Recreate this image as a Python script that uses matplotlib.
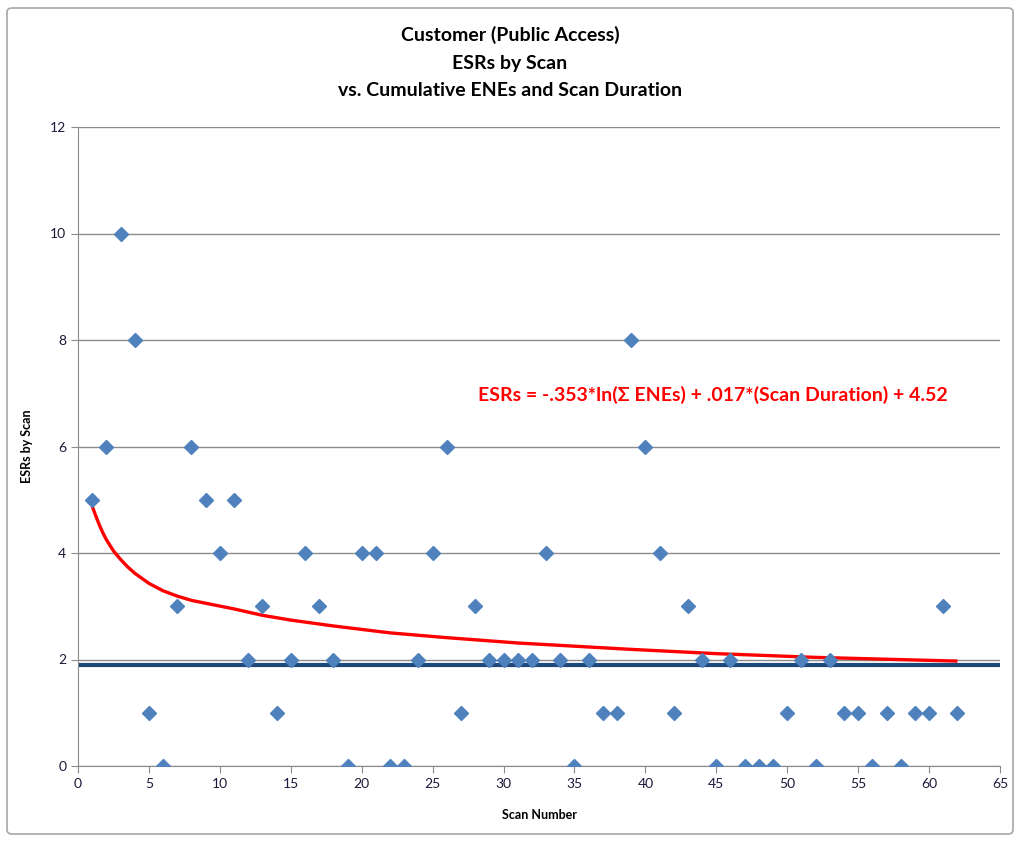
import numpy as np
import matplotlib
matplotlib.use("Agg")
import matplotlib.pyplot as plt
from matplotlib.patches import FancyBboxPatch

# Scan numbers and ESR counts per scan
scan_number = list(range(1, 63))
esrs = [5, 6, 10, 8, 1, 0, 3, 6, 5, 4,
        5, 2, 3, 1, 2, 4, 3, 2, 0, 4,
        4, 0, 0, 2, 4, 6, 1, 3, 2, 2,
        2, 2, 4, 2, 0, 2, 1, 1, 8, 6,
        4, 1, 3, 2, 0, 2, 0, 0, 0, 1,
        2, 0, 2, 1, 1, 0, 1, 0, 1, 1,
        3, 1]

# Model prediction (cumulative ENEs and scan duration) along the scans
model_scan = [1, 1.25, 1.5, 1.75, 2, 2.5, 3, 3.5, 4, 5, 6, 7, 8, 9.5, 11,
              13, 15, 18, 22, 26, 31, 35, 39, 45, 52, 62]
model_esrs = [4.88, 4.70, 4.53, 4.38, 4.25, 4.04, 3.88, 3.74, 3.62, 3.43,
              3.29, 3.19, 3.11, 3.03, 2.95, 2.83, 2.74, 2.63, 2.50, 2.41,
              2.31, 2.25, 2.19, 2.11, 2.04, 1.97]

# Reference level line
baseline_level = 1.9
baseline_span = [0.1, 65]

title_lines = ["Customer (Public Access)", "ESRs by Scan",
               "vs. Cumulative ENEs and Scan Duration"]
equation = "ESRs = -.353*ln(\u03a3 ENEs) + .017*(Scan Duration) + 4.52"

plt.rcParams['font.family'] = ['Lato', 'DejaVu Sans']

fig = plt.figure(figsize=(10.2, 8.42), dpi=100)
ax = fig.add_axes([78 / 1020, 1 - 766 / 842, (1000 - 78) / 1020, (766 - 127) / 842])

# outer chart frame
frame = FancyBboxPatch((7 / 1020, 8 / 842), 1 - 14 / 1020, 1 - 16 / 842,
                       boxstyle="round,pad=0,rounding_size=0.005",
                       transform=fig.transFigure, fill=False,
                       edgecolor="#a6a6a6", linewidth=1.2)
fig.patches.append(frame)

ax.plot(model_scan, model_esrs, color="#FF0000", linewidth=2.4,
        solid_capstyle="butt", solid_joinstyle="round", zorder=3)
ax.plot(baseline_span, [baseline_level, baseline_level], color="#1F497D",
        linewidth=3.0, solid_capstyle="butt", zorder=3)
ax.plot(scan_number, esrs, linestyle="none", marker="D", markersize=7,
        color="#4F81BD", zorder=4)

ax.set_xlim(0, 65)
ax.set_ylim(0, 12)
ax.set_xticks(range(0, 66, 5))
ax.set_yticks(range(0, 13, 2))
ax.yaxis.grid(True, color="#8c8c8c", linewidth=1.0)
ax.set_axisbelow(True)
for side in ["top", "right"]:
    ax.spines[side].set_visible(False)
for side in ["left", "bottom"]:
    ax.spines[side].set_color("#8c8c8c")
ax.tick_params(axis="both", colors="#8c8c8c", length=5, direction="out",
               labelsize=10, labelcolor="#1a1a3a")

ax.set_xlabel("Scan Number", fontsize=9, fontweight="bold", labelpad=14)
ax.set_ylabel("ESRs by Scan", fontsize=9, fontweight="bold", labelpad=12)

for i, line in enumerate(title_lines):
    fig.text(0.5, 1 - (35 + 28 * i) / 842, line, ha="center", va="center",
             fontsize=14, fontweight="bold")

ax.text(28.2, 6.97, equation, color="#FF0000", fontsize=14,
        fontweight="bold", va="center", ha="left")

fig.savefig("out.png", dpi=100)
